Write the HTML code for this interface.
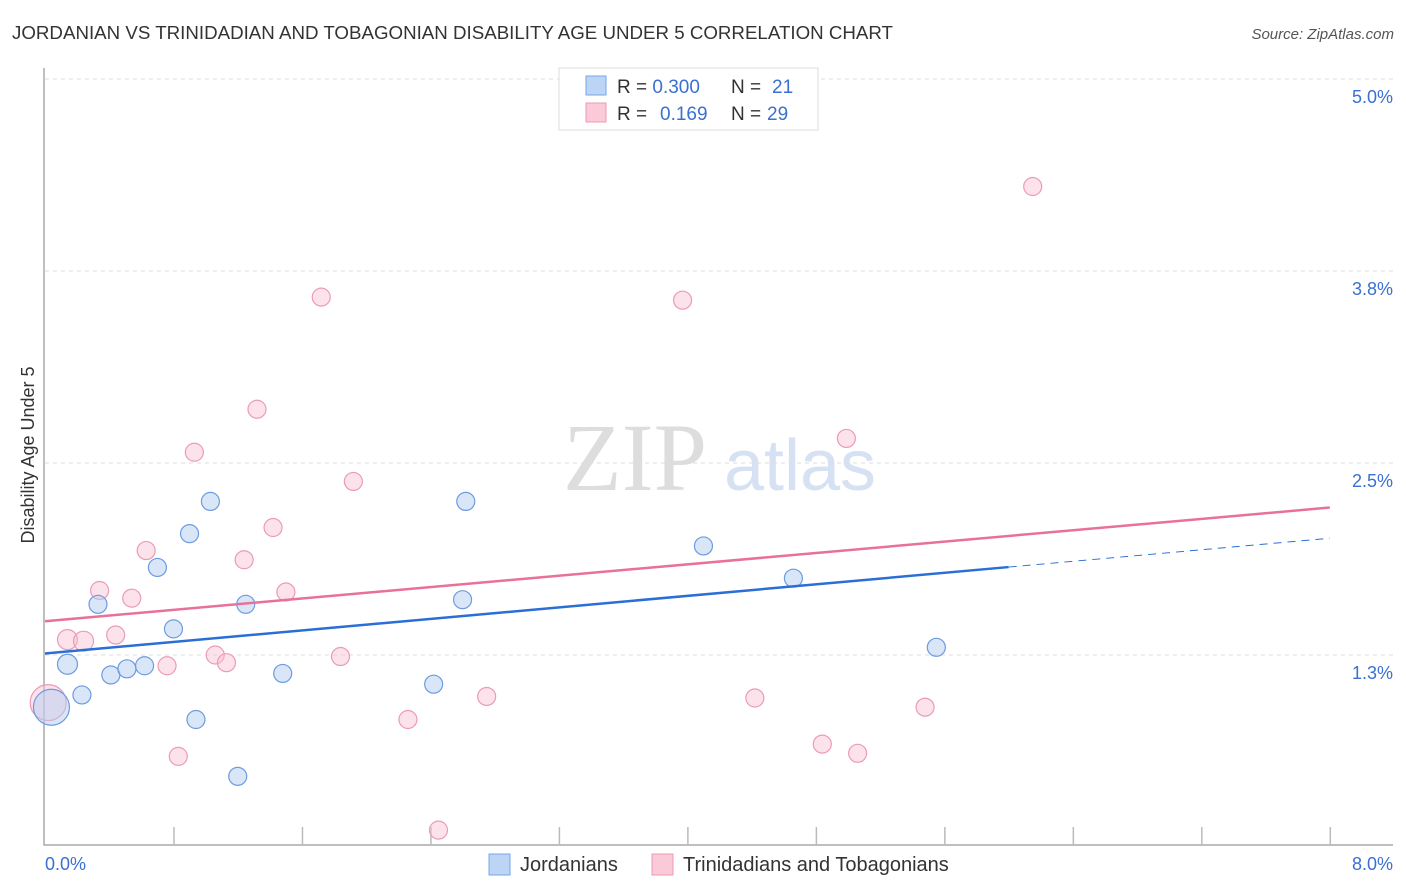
<!DOCTYPE html>
<html><head><meta charset="utf-8"><style>
body{margin:0;background:#fff;font-family:"Liberation Sans",sans-serif;}
svg{display:block}
</style></head><body>
<svg id="chart" width="1406" height="892">
<text x="12" y="39" font-size="18" fill="#333" textLength="881" lengthAdjust="spacingAndGlyphs">JORDANIAN VS TRINIDADIAN AND TOBAGONIAN DISABILITY AGE UNDER 5 CORRELATION CHART</text>
<text x="1394" y="39" font-size="15" fill="#555" font-style="italic" text-anchor="end">Source: ZipAtlas.com</text>
<text x="34" y="455" font-size="18" fill="#333" text-anchor="middle" transform="rotate(-90 34 455)">Disability Age Under 5</text>
<g>
<text x="635" y="490" font-size="96" fill="#ddd" font-family="Liberation Serif,serif" text-anchor="middle">ZIP</text>
<text x="800" y="490" font-size="72" fill="#d6e2f3" text-anchor="middle">atlas</text>
</g>
<g id="grid"></g>
<g id="axes"></g>
<g id="marks"></g>
<g>
<rect x="559" y="68" width="259" height="62" fill="#fff" stroke="#ddd"/>
<rect x="586" y="76" width="20" height="19" fill="#bcd4f5" stroke="#7aa6e6"/>
<rect x="586" y="103" width="20" height="19" fill="#fbcad8" stroke="#eb9bb4"/>
<text x="617" y="93" font-size="19" fill="#333">R = <tspan fill="#3a70d0">0.300</tspan></text>
<text x="731" y="93" font-size="19" fill="#333">N = </text><text x="772" y="93" font-size="19" fill="#3a70d0">21</text>
<text x="617" y="120" font-size="19" fill="#333">R = </text><text x="660" y="120" font-size="19" fill="#3a70d0">0.169</text>
<text x="731" y="120" font-size="19" fill="#333">N = </text><text x="767" y="120" font-size="19" fill="#3a70d0">29</text>
</g>
<g>
<rect x="489" y="854" width="21" height="21" fill="#bcd4f5" stroke="#7aa6e6"/>
<text x="520" y="871" font-size="20" fill="#333">Jordanians</text>
<rect x="652" y="854" width="21" height="21" fill="#fbcad8" stroke="#eb9bb4"/>
<text x="683" y="871" font-size="20" fill="#333">Trinidadians and Tobagonians</text>
</g>
</svg>
<script>
const blueX=[0.04,0.14,0.23,0.33,0.41,0.51,0.62,0.70,0.80,0.90,0.94,1.03,1.20,1.25,1.48,2.42,2.60,2.62,4.10,4.66,5.55];
const blueY=[0.91,1.19,0.99,1.58,1.12,1.16,1.18,1.82,1.42,2.04,0.83,2.25,0.46,1.58,1.13,1.06,1.61,2.25,1.96,1.75,1.30];
const blueR=[18,10,9,9,9,9,9,9,9,9,9,9,9,9,9,9,9,9,9,9,9];
const pinkX=[0.02,0.14,0.24,0.34,0.44,0.54,0.63,0.76,0.83,0.93,1.06,1.13,1.24,1.32,1.42,1.50,1.72,1.84,1.92,2.26,2.45,2.75,3.97,4.42,4.84,4.99,5.06,5.48,6.15];
const pinkY=[0.94,1.35,1.34,1.67,1.38,1.62,1.93,1.18,0.59,2.57,1.25,1.20,1.87,2.85,2.08,1.66,3.58,1.24,2.38,0.83,0.11,0.98,3.56,0.97,0.67,2.66,0.61,0.91,4.30];
const pinkR=[18,10,10,9,9,9,9,9,9,9,9,9,9,9,9,9,9,9,9,9,9,9,9,9,9,9,9,9,9];
const yTicks=[1.25,2.5,3.75,5.0];
const yTickLabels=["1.3%","2.5%","3.8%","5.0%"];
const xTicks=[0.8,1.6,2.4,3.2,4.0,4.8,5.6,6.4,7.2,8.0];
const blueTrend=[1.26,2.01];const blueSolidEnd=6.0;
const pinkTrend=[1.47,2.21];
const NS="http://www.w3.org/2000/svg";
const X=v=>45+v*160.6, Y=v=>79+(5-v)*153.6;
function el(p,t,a){const e=document.createElementNS(NS,t);for(const k in a)e.setAttribute(k,a[k]);p.appendChild(e);return e;}
const grid=document.getElementById('grid'),axes=document.getElementById('axes'),marks=document.getElementById('marks');
yTicks.forEach((t,i)=>{
 const g=el(grid,'line',{x1:45,x2:1393,y1:Y(t),y2:Y(t),stroke:'#ddd','stroke-dasharray':'4,4'});
 
 
 const l=el(axes,'text',{x:1393,y:Y(t)+24,'font-size':18,fill:'#3a70d0','text-anchor':'end'});
 l.textContent=yTickLabels[i];
 
 
});
const ax=el(axes,'path',{d:'M44 68 V845 H1393',fill:'none',stroke:'#aaa','stroke-width':1.5});


xTicks.forEach(t=>{
 const k=el(axes,'line',{x1:X(t)+0.5,x2:X(t)+0.5,y1:827,y2:845,stroke:'#bbb','stroke-width':1.5});
 
 
});
const x0=el(axes,'text',{x:45,y:870,'font-size':18,fill:'#3a70d0'});x0.textContent='0.0%';


const x1=el(axes,'text',{x:1393,y:870,'font-size':18,fill:'#3a70d0','text-anchor':'end'});x1.textContent='8.0%';


function pts(xs,ys,rs,fill,stroke,name){xs.forEach((x,i)=>{
 const c=el(marks,'circle',{cx:X(x),cy:Y(ys[i]),r:rs[i],fill:fill,stroke:stroke,'stroke-width':1.2});
 
 
});}
pts(pinkX,pinkY,pinkR,'rgba(248,190,208,0.45)','#eb9bb4','point-trinidadian');
pts(blueX,blueY,blueR,'rgba(180,205,242,0.5)','#6d9be0','point-jordanian');
const bt=v=>blueTrend[0]+(blueTrend[1]-blueTrend[0])*v/8;
const bl=el(marks,'line',{x1:X(0),y1:Y(bt(0)),x2:X(blueSolidEnd),y2:Y(bt(blueSolidEnd)),stroke:'#2a6fd6','stroke-width':2.5});


const bd=el(marks,'line',{x1:X(blueSolidEnd),y1:Y(bt(blueSolidEnd)),x2:X(8),y2:Y(bt(8)),stroke:'#2a6fd6','stroke-width':1,'stroke-dasharray':'8,6'});


const pl=el(marks,'line',{x1:X(0),y1:Y(pinkTrend[0]),x2:X(8),y2:Y(pinkTrend[1]),stroke:'#e8709a','stroke-width':2.5});


</script>
</body></html>
